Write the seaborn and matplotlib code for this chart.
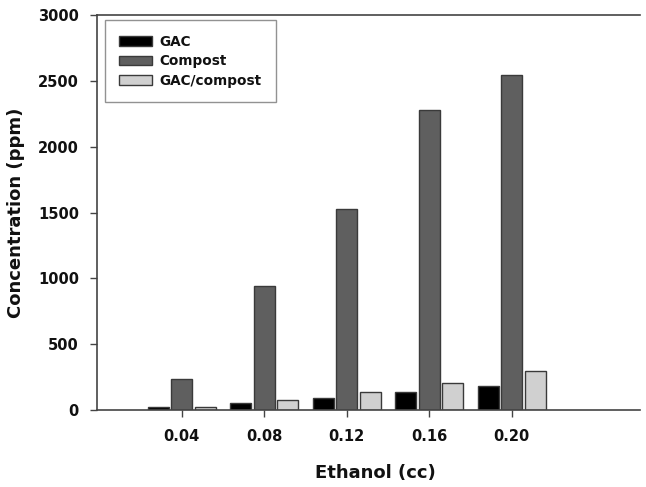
import matplotlib
matplotlib.use("Agg")
import matplotlib.pyplot as plt
import seaborn as sns
import pandas as pd

ethanol = ["0.04", "0.08", "0.12", "0.16", "0.20"]
gac = [22, 53, 90, 140, 180]
compost = [235, 945, 1530, 2280, 2545]
gac_compost = [20, 76, 138, 205, 298]
series_names = ["GAC", "Compost", "GAC/compost"]
colors = ["#000000", "#5f5f5f", "#d0d0d0"]

rows = []
for name, vals in zip(series_names, [gac, compost, gac_compost]):
    for e, v in zip(ethanol, vals):
        rows.append({"Ethanol": e, "Concentration": v, "Series": name})
df = pd.DataFrame(rows)

sns.set_style("white")
plt.rcParams["font.family"] = ["DejaVu Sans"]
plt.rcParams["font.weight"] = "bold"
plt.rcParams["text.color"] = "#111111"
plt.rcParams["axes.labelcolor"] = "#111111"
plt.rcParams["xtick.labelcolor"] = "#111111"
plt.rcParams["ytick.labelcolor"] = "#111111"

fig = plt.figure(figsize=(6.46, 4.87), dpi=100)
ax = fig.add_axes([0.150, 0.158, 0.841, 0.811])

sns.barplot(data=df, x="Ethanol", y="Concentration", hue="Series",
            order=ethanol, hue_order=series_names, palette=colors,
            width=0.855, gap=0.1, edgecolor="#3a3a3a", linewidth=1.0,
            errorbar=None, ax=ax)

ax.set_xlim(-1.03, 5.56)
ax.set_ylim(0, 3000)
ax.set_yticks([0, 500, 1000, 1500, 2000, 2500, 3000])
ax.set_xlabel("Ethanol (cc)", fontsize=13, fontweight="bold")
ax.set_ylabel("Concentration (ppm)", fontsize=13, fontweight="bold")
ax.xaxis.set_label_coords(0.512, -0.137)
ax.yaxis.set_label_coords(-0.133, 0.5)
for lab in ax.get_xticklabels() + ax.get_yticklabels():
    lab.set_fontweight("bold")
ax.tick_params(axis="both", which="major", labelsize=10.5, direction="out",
               length=5, width=1, color="#444444", labelcolor="#111111",
               left=True, bottom=True)
ax.tick_params(axis="x", pad=9)
ax.tick_params(axis="y", pad=8)

for s in ["left", "bottom", "top"]:
    ax.spines[s].set_visible(True)
    ax.spines[s].set_color("#444444")
    ax.spines[s].set_linewidth(1.2)
ax.spines["right"].set_visible(False)

leg = ax.legend(loc="upper left", bbox_to_anchor=(0.015, 0.987), borderaxespad=0,
                frameon=True, fancybox=False, edgecolor="#777777",
                prop={"weight": "bold", "size": 9.8}, handlelength=2.4,
                handleheight=0.75, labelspacing=0.42, borderpad=1.05,
                handletextpad=0.55, title=None)
leg.get_frame().set_linewidth(1.0)
for t in leg.get_texts():
    t.set_color("#111111")

fig.savefig("out.png", dpi=100)
